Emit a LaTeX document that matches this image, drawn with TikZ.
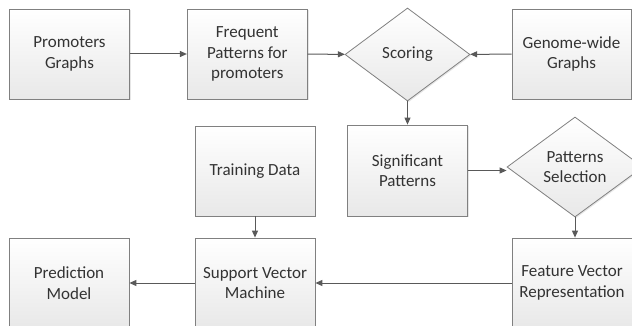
\documentclass[tikz,border=0pt]{standalone}
\usepackage{fontspec}
\setmainfont{Carlito}
\usetikzlibrary{arrows.meta, positioning, shapes.geometric, shadows}

\begin{document}
\begin{tikzpicture}[
    x=1pt, y=-1pt,
    node distance = 22pt and 57pt,
    base/.style = {draw=black!50, line width=0.8pt, top color=white, bottom color=black!9,
                   text=black!80, align=center, inner sep=0pt,
                   font=\fontsize{17}{20.5}\selectfont,
                   drop shadow={opacity=0.2, shadow xshift=1.2pt, shadow yshift=-1.2pt}},
    box/.style = {base, rectangle, minimum width=120pt, minimum height=90pt},
    decision/.style = {base, diamond, aspect=1.36},
    link/.style = {draw=black!65, line width=1pt, -{Triangle[length=7pt, width=6pt]}},
]
    \useasboundingbox (0,0) rectangle (632,326);
    % rangee du haut
    \node[box] (prom) at (69.5,54) {Promoters\\Graphs};
    \node[box, right=of prom] (freq) {Frequent\\Patterns for\\promoters};
    \node[decision, minimum width=125pt, minimum height=93pt] (score) at (407.5,54.5) {Scoring};
    \node[box, minimum width=119pt] (genome) at (571.5,54) {Genome-wide\\Graphs};
    % rangee du milieu
    \node[box, minimum height=91pt] (sig) at (407.5,170.5) {Significant\\Patterns};
    \node[decision, minimum width=136pt, minimum height=100pt] (sel) at (575,167) {Patterns\\Selection};
    \node[box] (train) at (255,171) {Training Data};
    % rangee du bas
    \node[box] (feat) at (572,283) {Feature Vector\\Representation};
    \node[box] (svm) at (255,283) {Support Vector\\Machine};
    \node[box] (pred) at (69,283) {Prediction\\Model};
    % liens
    \draw[link] (prom) -- (freq);
    \draw[link] (freq) -- (score);
    \draw[link] (genome) -- (score);
    \draw[link] (score) -- (sig);
    \draw[link] (sig.east) -- (sig.east -| sel.west);
    \draw[link] (sel) -- (sel |- feat.north);
    \draw[link] (feat) -- (svm);
    \draw[link] (train) -- (svm);
    \draw[link] (svm) -- (pred);
\end{tikzpicture}
\end{document}
